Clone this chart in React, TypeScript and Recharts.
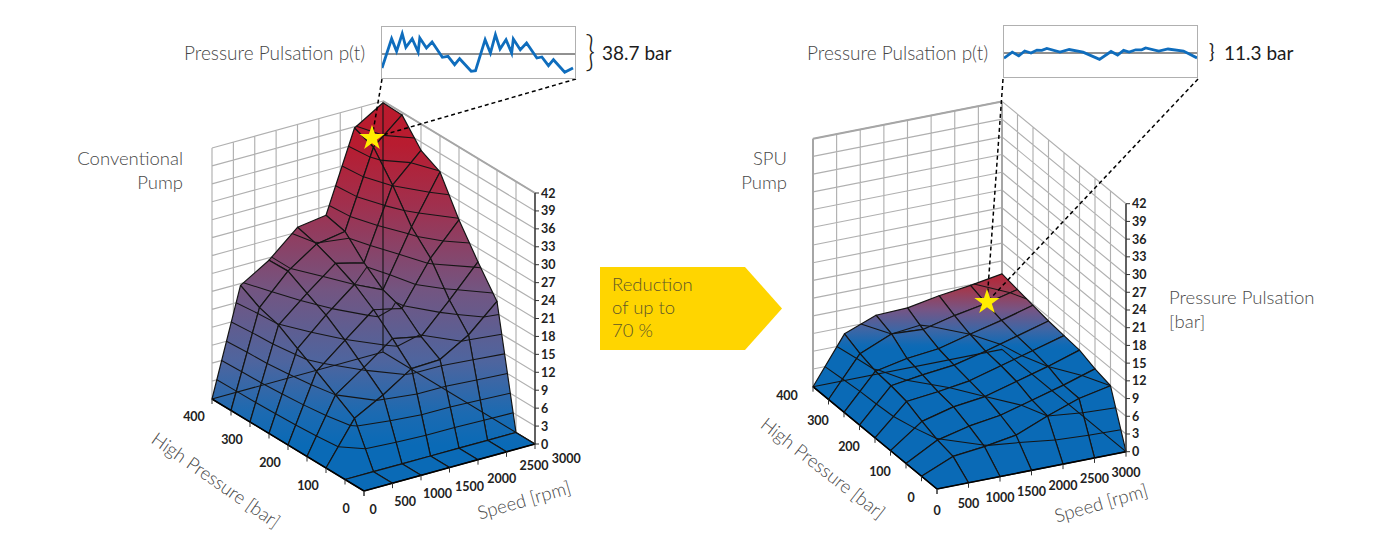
import React from 'react';
import { Line, LineChart, ReferenceLine, Scatter, ScatterChart, Symbols, XAxis, YAxis } from 'recharts';

// axis values
const speeds = [0, 500, 1000, 1500, 2000, 2500, 3000];
const pressures = [0, 50, 100, 150, 200, 250, 300, 350, 400];
const speedTicks = [0, 500, 1000, 1500, 2000, 2500, 3000];
const pressureTicks = [0, 100, 200, 300, 400];
const pulsationTicks = [0, 3, 6, 9, 12, 15, 18, 21, 24, 27, 30, 33, 36, 39, 42];
const wallSpeeds = [0, 375, 750, 1125, 1500, 1875, 2250, 2625, 3000];

// pulsation [bar], one row per pressure, one column per speed
const conventionalRows = [
  [0, 0, 0, 0, 0, 0, 0],
  [0, 0, 0, 0, 0, 0, 0],
  [0, 7, 9.6, 12.7, 12.9, 15.7, 20],
  [0, 9, 12.3, 15.8, 14.8, 19.6, 24.7],
  [0, 11, 14.9, 18.7, 17.6, 24.7, 29.8],
  [0, 12.9, 17.2, 21, 18.8, 28, 35.9],
  [0, 14.9, 18.9, 22.6, 21.4, 33.1, 37.6],
  [0, 15.9, 20.7, 23.9, 24.7, 37.5, 41.6],
  [0, 17.7, 20.6, 24.8, 25.5, 38.8, 41.7],
];
const spuRows = [
  [0, 0, 0, 0, 0, 0, 0],
  [0, 2.3, 2.9, 3.8, 6, 7.9, 9],
  [0, 2.9, 4.2, 5, 6.5, 8, 9.7],
  [0, 3.9, 5.3, 6, 7.5, 9, 10.7],
  [0, 5.1, 5.7, 6.5, 8, 9.5, 11],
  [0, 5.6, 6.4, 7, 8.3, 9.8, 11.3],
  [0, 5.9, 7, 7.6, 9, 10.3, 11.8],
  [0, 6.7, 9, 8.7, 10, 11, 12.3],
  [0, 7.9, 10, 10.2, 11.2, 11.9, 12.8],
];

// worst operating point on each map: speed, pressure, pulsation
const conventionalPeak = [2520, 357, 38.7];
const spuPeak = [2506, 348, 11.3];

// p(t) traces
const conventionalTime = [0, 2.9, 4.4, 6.1, 7.2, 9.1, 10.9, 11.4, 13.4, 15.1, 18.2, 19.9, 21.9, 23.4, 26.9, 28.2, 31.1, 32.7, 34.2, 35.6, 37.4, 39.1, 39.6, 41.7, 43.6, 46.7, 48.2, 50.2, 51.7, 55.1, 57.6];
const conventionalPressure = [-14, 15.3, 2.7, 20.3, 6.7, 15.3, 2, 16, 6, 12, -3.3, -2.3, -10.7, -4.7, -17.3, -16.7, 14.3, 1, 19.3, 5, 14.3, 1, 15, 4.3, 11, -4, -3, -11.7, -5.7, -18.3, -14];
const spuTime = [0, 2.5, 4.5, 6.3, 8.2, 10, 11.5, 13, 17, 19.8, 24, 29, 32.5, 34.5, 36.3, 38, 40, 41.8, 43, 47, 49.8, 54.5, 58.6];
const spuPressure = [-5.2, 0.9, -2.9, 2, 0, 2.9, 2.6, 4.6, 0.9, 3.5, 0.9, -6.4, 1.5, -2, 2.6, 0.9, 3.2, 3.2, 5, 2, 4, 2, -4.9];

const WIDTH = 1400;
const HEIGHT = 545;
const BODY = 'Lato, sans-serif';
const GREY = '#474747';

type Pt = { x: number; y: number };

const views = {
  left: {
    origin: [364, 491], speedVec: [171, -47], pressureVec: [-152, -92], zScale: 251 / 42,
    rows: conventionalRows, peak: conventionalPeak, fill: 'url(#leftRamp)',
    inset: [[382, 79], [576, 79]], heavyWall: false,
    speedLabel: (j: number) => [9 + j * 3.7, j > 4 ? 14 : 18.5], pressureLabel: [-18, 17],
  },
  right: {
    origin: [937, 489], speedVec: [189, -37.3], pressureVec: [-124, -102.3], zScale: 248 / 42,
    rows: spuRows, peak: spuPeak, fill: 'url(#rightRamp)',
    inset: [[1003, 79], [1198, 79]], heavyWall: true,
    speedLabel: () => [0, 21], pressureLabel: [-26, 8.5],
  },
};
type View = typeof views.left;

const project = (v: View, s: number, p: number, z: number): Pt => ({
  x: v.origin[0] + (v.speedVec[0] * s) / 3000 + (v.pressureVec[0] * p) / 400,
  y: v.origin[1] + (v.speedVec[1] * s) / 3000 + (v.pressureVec[1] * p) / 400 - v.zScale * z,
});

// band boundaries crossing one cell, as pairs of points
function contourPairs(v: View, i: number, j: number): Pt[] {
  const corners = [
    [speeds[j], pressures[i], v.rows[i][j]],
    [speeds[j + 1], pressures[i], v.rows[i][j + 1]],
    [speeds[j + 1], pressures[i + 1], v.rows[i + 1][j + 1]],
    [speeds[j], pressures[i + 1], v.rows[i + 1][j]],
  ];
  const out: Pt[] = [];
  pulsationTicks.slice(1).forEach((level) => {
    const hits: Pt[] = [];
    corners.forEach((a, k) => {
      const b = corners[(k + 1) % 4];
      if (a[2] < level !== b[2] < level) {
        const t = (level - a[2]) / (b[2] - a[2]);
        hits.push(project(v, a[0] + (b[0] - a[0]) * t, a[1] + (b[1] - a[1]) * t, level));
      }
    });
    if (hits.length >= 2) out.push(hits[0], hits[1]);
    if (hits.length === 4) out.push(hits[2], hits[3]);
  });
  return out;
}

const pairsPath = (pts: Pt[]) => {
  let d = '';
  for (let k = 0; k + 1 < pts.length; k += 2) d += `M${pts[k].x},${pts[k].y}L${pts[k + 1].x},${pts[k + 1].y}`;
  return d;
};

const noDot = () => <g />;

const pairLines = (stroke: string, width: number, dash?: string) => (props: any) => (
  <path d={pairsPath(props.points)} fill="none" stroke={stroke} strokeWidth={width} strokeDasharray={dash} />
);

const cellShape = (fill: string) => (props: any) => {
  const pts: Pt[] = props.points;
  const outline = pts.slice(0, 4).map((q) => `${q.x},${q.y}`).join(' ');
  return (
    <g>
      <polygon points={outline} fill={fill} stroke="#151515" strokeWidth={1.2} strokeLinejoin="round" />
      <path d={pairsPath(pts.slice(4))} fill="none" stroke="#151515" strokeWidth={1.05} />
    </g>
  );
};

function wallSegments(v: View) {
  const seg = (a: number[], b: number[]) => [project(v, a[0], a[1], a[2]), project(v, b[0], b[1], b[2])];
  const lines: Pt[] = [];
  pulsationTicks.forEach((z) => {
    lines.push(...seg([0, 400, z], [3000, 400, z]), ...seg([3000, 400, z], [3000, 0, z]));
  });
  wallSpeeds.forEach((s) => lines.push(...seg([s, 400, 0], [s, 400, 42])));
  pressures.forEach((p) => lines.push(...seg([3000, p, 0], [3000, p, 42])));
  return lines;
}

function Surface(v: View) {
  const top = v.rows[8][6];
  const cells: React.ReactNode[] = [];
  for (let i = 7; i >= 0; i--) {
    for (let j = 5; j >= 0; j--) {
      const data = [
        project(v, speeds[j], pressures[i], v.rows[i][j]),
        project(v, speeds[j + 1], pressures[i], v.rows[i][j + 1]),
        project(v, speeds[j + 1], pressures[i + 1], v.rows[i + 1][j + 1]),
        project(v, speeds[j], pressures[i + 1], v.rows[i + 1][j]),
        ...contourPairs(v, i, j),
      ];
      cells.push(
        <Scatter key={`${v.fill}-${i}-${j}`} data={data} dataKey="y" line={cellShape(v.fill)} shape={noDot} isAnimationActive={false} />,
      );
    }
  }
  const seg = (a: number[], b: number[]) => [project(v, a[0], a[1], a[2]), project(v, b[0], b[1], b[2])];
  const heavy = v.heavyWall
    ? [...seg([0, 400, 0], [0, 400, 42]), ...seg([0, 400, 42], [3000, 400, 42]), ...seg([3000, 400, 0], [3000, 400, 42])]
    : [...seg([3000, 400, 42], [3000, 0, 42])];
  const frame = [...seg([0, 400, 0], [3000, 400, 0]), ...seg([3000, 0, 0], [3000, 400, 0])];
  if (!v.heavyWall) frame.push(...seg([3000, 400, 0], [3000, 400, top]));
  const front = [...seg([0, 0, 0], [3000, 0, 0]), ...seg([0, 0, 0], [0, 400, 0])];
  const zAxis = seg([3000, 0, 0], [3000, 0, 42]);
  const tag = v.fill;
  return [
    <Scatter key={`${tag}-wall`} data={wallSegments(v)} dataKey="y" line={pairLines('#b0b0b0', 1.15)} shape={noDot} isAnimationActive={false} />,
    <Scatter key={`${tag}-heavy`} data={heavy} dataKey="y" line={pairLines('#a6a6a6', 2)} shape={noDot} isAnimationActive={false} />,
    ...cells,
    <Scatter key={`${tag}-frame`} data={frame} dataKey="y" line={pairLines('#151515', 1.1)} shape={noDot} isAnimationActive={false} />,
    <Scatter key={`${tag}-front`} data={front} dataKey="y" line={pairLines('#000', 1.6)} shape={noDot} isAnimationActive={false} />,
    <Scatter key={`${tag}-zaxis`} data={zAxis} dataKey="y" line={pairLines('#333', 1.4)} shape={noDot} isAnimationActive={false} />,
    <Scatter
      key={`${tag}-zticks`}
      data={pulsationTicks.map((z) => ({ ...project(v, 3000, 0, z), label: z }))}
      dataKey="y"
      isAnimationActive={false}
      shape={(p: any) => (
        <g>
          <line x1={p.cx} x2={p.cx + 4} y1={p.cy} y2={p.cy} stroke="#333" />
          <text x={p.cx + 6} y={p.cy + 4.5} fontFamily={BODY} fontSize={12.5} fontWeight={700} fill="#222">{p.payload.label}</text>
        </g>
      )}
    />,
    <Scatter
      key={`${tag}-pticks`}
      data={pressures.map((q) => ({ ...project(v, 0, q, 0), label: pressureTicks.includes(q) ? q : '' }))}
      dataKey="y"
      isAnimationActive={false}
      shape={(p: any) => (
        <g>
          <line x1={p.cx} x2={p.cx} y1={p.cy} y2={p.cy + 5} stroke="#333" />
          <text x={p.cx + v.pressureLabel[0]} y={p.cy + v.pressureLabel[1] + 4.5} textAnchor="middle" fontFamily={BODY} fontSize={12.5} fontWeight={700} fill="#222">{p.payload.label}</text>
        </g>
      )}
    />,
    <Scatter
      key={`${tag}-sticks`}
      data={speedTicks.map((s, j) => ({ ...project(v, s, 0, 0), label: s, j }))}
      dataKey="y"
      isAnimationActive={false}
      shape={(p: any) => {
        const off = v.speedLabel(p.payload.j);
        return (
          <g>
            <line x1={p.cx} x2={p.cx} y1={p.cy} y2={p.cy + 5} stroke="#333" />
            <text x={p.cx + off[0]} y={p.cy + off[1] + 4.5} textAnchor="middle" fontFamily={BODY} fontSize={12.5} fontWeight={700} fill="#222">{p.payload.label}</text>
          </g>
        );
      }}
    />,
  ];
}

function Leaders(v: View) {
  const star = project(v, v.peak[0], v.peak[1], v.peak[2]);
  const data = [{ x: v.inset[0][0], y: v.inset[0][1] }, star, { x: v.inset[1][0], y: v.inset[1][1] }, star];
  return [
    <Scatter key={`${v.fill}-lead`} data={data} dataKey="y" line={pairLines('#000', 1.5, '4 3')} shape={noDot} isAnimationActive={false} />,
    <Scatter
      key={`${v.fill}-star`}
      data={[star]}
      dataKey="y"
      isAnimationActive={false}
      shape={(p: any) => <Symbols cx={p.cx} cy={p.cy} type="star" size={200} fill="#ffec00" />}
    />,
  ];
}

function Trace({ time, values, left, top, tMax }: { time: number[]; values: number[]; left: number; top: number; tMax: number }) {
  const data = time.map((t, k) => ({ t, p: values[k] }));
  return (
    <div style={{ position: 'absolute', left, top, width: 195, height: 53, boxSizing: 'border-box', border: '1px solid #b0b0b0' }}>
      <LineChart width={193} height={51} data={data} margin={{ top: 0, right: 0, bottom: 0, left: 0 }}>
        <XAxis dataKey="t" type="number" domain={[0, tMax]} hide />
        <YAxis type="number" domain={[-24, 27]} hide />
        <ReferenceLine y={0} stroke="#222" strokeWidth={1} />
        <Line dataKey="p" type="linear" stroke="#0f6dbd" strokeWidth={2.8} dot={false} isAnimationActive={false} />
      </LineChart>
    </div>
  );
}

function Caption({ x, y, children, rotate, align, size, color, weight }: any) {
  const shift = align === 'right' ? '-100%' : align === 'center' ? '-50%' : '0';
  return (
    <div
      style={{
        position: 'absolute', left: x, top: y, whiteSpace: 'nowrap', fontFamily: BODY, fontSize: size ?? 18.5,
        fontWeight: weight ?? 300, color: color ?? GREY, lineHeight: 1,
        transform: `translate(${shift}, -50%) rotate(${rotate ?? 0}deg)`,
      }}
    >
      {children}
    </div>
  );
}

export default function App() {
  return (
    <div style={{ position: 'absolute', left: 0, top: 0, width: WIDTH, height: HEIGHT, overflow: 'hidden', background: '#fff' }}>
      <ScatterChart width={WIDTH} height={HEIGHT} margin={{ top: 0, right: 0, bottom: 0, left: 0 }}>
        <defs>
          <linearGradient id="leftRamp" gradientUnits="userSpaceOnUse" x1="0" x2="0" y1="103" y2="445">
            <stop offset="0" stopColor="#bb1a2d" />
            <stop offset="0.12" stopColor="#b81c30" />
            <stop offset="0.3" stopColor="#a0304e" />
            <stop offset="0.547" stopColor="#735581" />
            <stop offset="0.76" stopColor="#4d659f" />
            <stop offset="0.906" stopColor="#1c6ab1" />
            <stop offset="1" stopColor="#0a6ab6" />
          </linearGradient>
          <linearGradient id="rightRamp" gradientUnits="userSpaceOnUse" x1="0" x2="0" y1="270" y2="350">
            <stop offset="0" stopColor="#bd1e2f" />
            <stop offset="0.25" stopColor="#a03a50" />
            <stop offset="0.5" stopColor="#755585" />
            <stop offset="0.75" stopColor="#3d66a5" />
            <stop offset="0.94" stopColor="#0f6ab5" />
            <stop offset="1" stopColor="#0a6ab6" />
          </linearGradient>
        </defs>
        <XAxis type="number" dataKey="x" domain={[0, WIDTH]} hide />
        <YAxis type="number" dataKey="y" domain={[0, HEIGHT]} reversed hide />
        {Surface(views.left)}
        {Surface(views.right)}
        {Leaders(views.left)}
        {Leaders(views.right)}
      </ScatterChart>

      <Trace time={conventionalTime} values={conventionalPressure} left={381} top={26} tMax={58.2} />
      <Trace time={spuTime} values={spuPressure} left={1003} top={25} tMax={58.6} />

      <Caption x={184} y={52} size={19}>Pressure Pulsation p(t)</Caption>
      <Caption x={807} y={52} size={19}>Pressure Pulsation p(t)</Caption>
      <Caption x={602} y={52} size={19} color="#1c1c1c" weight={400}>38.7 bar</Caption>
      <Caption x={1224} y={52} size={19} color="#1c1c1c" weight={400}>11.3 bar</Caption>
      <div style={{ position: 'absolute', left: 584, top: 52, fontFamily: BODY, fontSize: 42, fontWeight: 300, color: '#222', lineHeight: 1, transform: 'translateY(-54%) scaleX(0.8)' }}>{'}'}</div>
      <Caption x={1209} y={51} color="#222" weight={400}>{'}'}</Caption>

      <Caption x={183} y={158} align="right">Conventional</Caption>
      <Caption x={183} y={182} align="right">Pump</Caption>
      <Caption x={787} y={158} align="right">SPU</Caption>
      <Caption x={787} y={182} align="right">Pump</Caption>
      <Caption x={1169} y={297}>Pressure Pulsation</Caption>
      <Caption x={1169} y={321}>[bar]</Caption>

      <Caption x={216} y={480} align="center" rotate={35}>High Pressure [bar]</Caption>
      <Caption x={524} y={500} align="center" rotate={-16}>Speed [rpm]</Caption>
      <Caption x={823} y={468} align="center" rotate={38}>High Pressure [bar]</Caption>
      <Caption x={1101} y={503} align="center" rotate={-16}>Speed [rpm]</Caption>

      <div style={{ position: 'absolute', left: 600, top: 267, width: 182, height: 83, background: '#ffd500', clipPath: 'polygon(0 0, 145px 0, 100% 50%, 145px 100%, 0 100%)' }} />
      <Caption x={612} y={284} color="#5e5628">Reduction</Caption>
      <Caption x={612} y={307} color="#5e5628">of up to</Caption>
      <Caption x={612} y={330} color="#5e5628">70 %</Caption>
    </div>
  );
}
